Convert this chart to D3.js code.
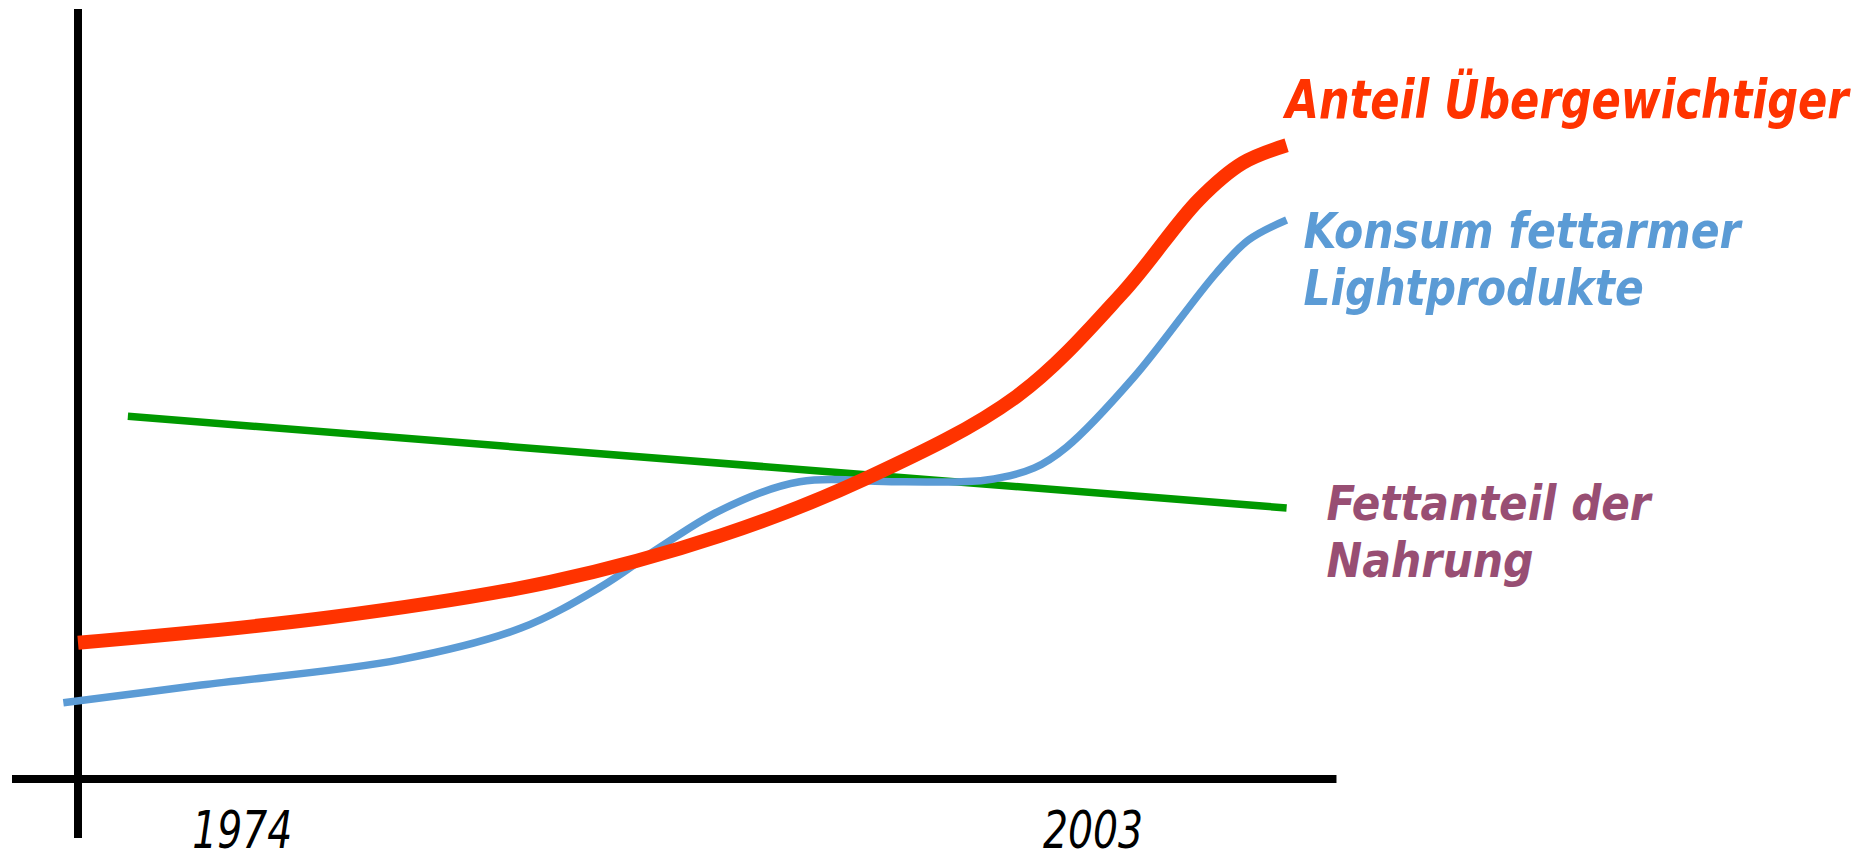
<!DOCTYPE html>
<html>
<head>
<meta charset="utf-8">
<script src="https://cdn.jsdelivr.net/npm/d3@7"></script>
<style>
  html, body { margin: 0; padding: 0; background: #fff; }
  svg { display: block; }
  .lbl { font-family: "DejaVu Sans Condensed", "DejaVu Sans", sans-serif; font-stretch: condensed; font-style: italic; font-weight: bold; }
  .tick { font-family: "DejaVu Sans Condensed", "DejaVu Sans", sans-serif; font-stretch: condensed; font-style: italic; }
</style>
</head>
<body>
<svg id="chart"></svg>
<script>
/*
Data
*/

// year ticks on the time axis
const tickYears = [1974, 2003];

// Anteil Übergewichtiger (index 0-100)
const overweightYears  = [1968.4, 1977.0, 1984.5, 1990.3, 1995.3, 2000.4, 2004.0, 2006.6, 2008.1, 2009.6];
const overweightValues = [17.7, 21.0, 25.6, 31.6, 39.1, 49.7, 63.1, 75.2, 80.0, 82.3];

// Konsum fettarmer Lightprodukte
const lightYears  = [1967.9, 1972.6, 1979.4, 1983.5, 1986.2, 1988.2, 1990.3, 1993.0, 1996.4, 1999.3, 2001.0, 2002.1, 2004.4, 2007.2, 2008.3, 2009.6];
const lightValues = [9.9, 12.2, 15.5, 19.6, 24.9, 30.0, 34.9, 38.6, 38.6, 38.8, 40.4, 43.1, 52.2, 65.7, 70.0, 72.6];

// Fettanteil der Nahrung
const fatYears  = [1970.1, 2009.6];
const fatValues = [47.1, 35.2];

const seriesNames = [["Anteil Übergewichtiger"], ["Konsum fettarmer", "Lightprodukte"], ["Fettanteil der", "Nahrung"]];

/*
Prototype
*/

var TrendChart = function (config) {
  return this.__init__(config);
};

TrendChart.prototype = {

  __init__ : function (config) {
    let self = this;

    self.id     = config.id;
    self.width  = config.width;
    self.height = config.height;

    self.x = d3.scaleLinear().domain([1968.4, 2003]).range([78, 1093]);
    self.y = d3.scaleLinear().domain([0, 100]).range([779, 9]);

    // series + where their label sits relative to the line end
    self.series = [
      { years: overweightYears, values: overweightValues, color: "#ff3300", width: 14,  text: "#ff3300", size: 53, dx: -1, dy: -27, lens: [563] },
      { years: lightYears,      values: lightValues,      color: "#5b9bd5", width: 7.5, text: "#5b9bd5", size: 50, dx: 17, dy: 28,  lens: [437, 340] },
      { years: fatYears,        values: fatValues,        color: "#009900", width: 7.5, text: "#984e73", size: 48, dx: 40, dy: 12,  lens: [324, 207] }
    ];
    self.series.forEach((s, i) => s.names = seriesNames[i]);

    return self;
  },

  update : function () {
    let self = this;
    let x = self.x, y = self.y;

    self.svg = d3.select(self.id)
      .attr("width", self.width)
      .attr("height", self.height);

    // axes, just two thick black strokes
    let axes = self.svg.append("g").attr("stroke", "#000").attr("stroke-width", 8);
    axes.append("line")
      .attr("x1", x.range()[0]).attr("x2", x.range()[0])
      .attr("y1", y(100)).attr("y2", y(0) + 59);
    axes.append("line")
      .attr("x1", x.range()[0] - 66).attr("x2", x(2011.3))
      .attr("y1", y(0)).attr("y2", y(0));

    let line = d3.line()
      .x(d => x(d[0]))
      .y(d => y(d[1]))
      .curve(d3.curveCatmullRom.alpha(0.5));

    // green first, then blue, red on top
    let order = [2, 1, 0];
    self.svg.append("g")
      .selectAll("path")
      .data(order.map(i => self.series[i]))
      .enter()
      .append("path")
      .attr("d", s => line(s.years.map((yr, j) => [yr, s.values[j]])))
      .attr("fill", "none")
      .attr("stroke", s => s.color)
      .attr("stroke-width", s => s.width)
      .attr("stroke-linecap", "butt");

    // series labels
    self.series.forEach(function (s) {
      let n = s.years.length - 1;
      let lx = x(s.years[n]) + s.dx;
      let ly = y(s.values[n]) + s.dy;
      let t = self.svg.append("text")
        .attr("class", "lbl")
        .attr("fill", s.text)
        .attr("font-size", s.size);
      s.names.forEach(function (name, k) {
        t.append("tspan")
          .attr("x", lx)
          .attr("y", ly + k * 57)
          .attr("textLength", s.lens[k])
          .attr("lengthAdjust", "spacingAndGlyphs")
          .text(name);
      });
    });

    // year labels under the axis
    self.svg.append("g")
      .selectAll("text")
      .data(tickYears)
      .enter()
      .append("text")
      .attr("class", "tick")
      .attr("x", d => x(d))
      .attr("y", y(0) + 69)
      .attr("text-anchor", "middle")
      .attr("font-size", 52)
      .attr("textLength", 100)
      .attr("lengthAdjust", "spacingAndGlyphs")
      .text(d => d);

    return self;
  }
};

new TrendChart({ id: "#chart", width: 1865, height: 855 }).update();
</script>
</body>
</html>
